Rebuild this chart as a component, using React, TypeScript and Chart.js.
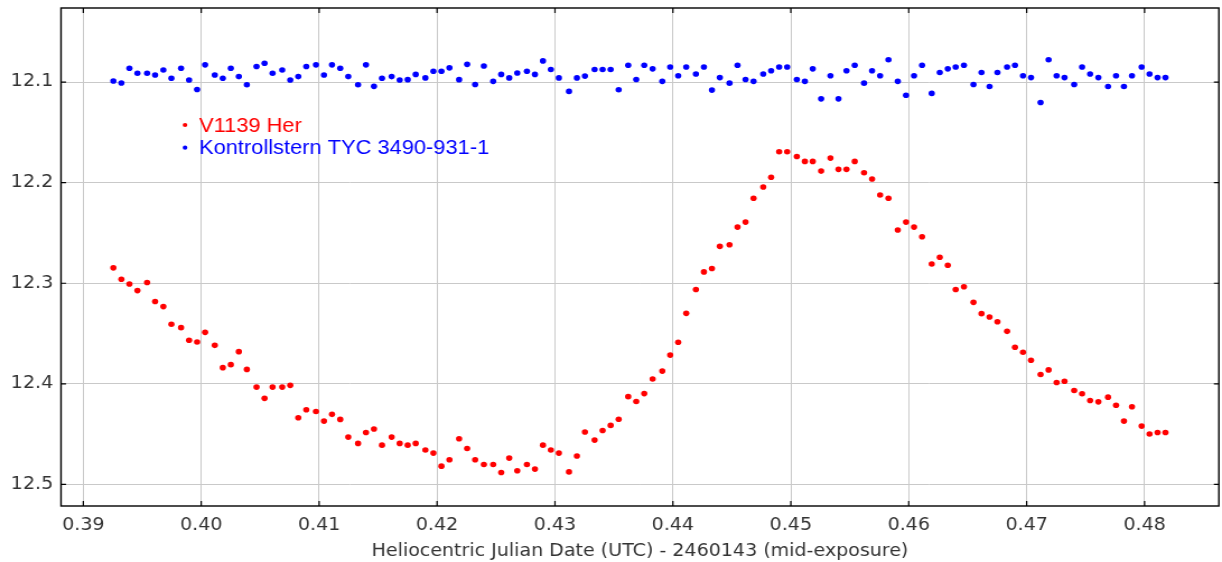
import React, { useEffect, useRef } from "react";
import { Chart, registerables } from "chart.js";

Chart.register(...registerables);

// ---------- data ----------
const seriesNames = ["V1139 Her", "Kontrollstern TYC 3490-931-1"];
const seriesColors = ["#ff0000", "#0000ff"];

const times = [
  0.39255, 0.39323, 0.39391, 0.39459, 0.39541, 0.39609, 0.39679, 0.39747, 0.39829, 0.39897,
  0.39965, 0.40033, 0.40115, 0.40183, 0.40251, 0.40319, 0.40387, 0.40469, 0.40537, 0.40605,
  0.40687, 0.40755, 0.40823, 0.40891, 0.40973, 0.41041, 0.41109, 0.41179, 0.41247, 0.4133,
  0.41397, 0.41465, 0.41533, 0.41615, 0.41683, 0.41751, 0.41819, 0.41901, 0.41969, 0.42037,
  0.42105, 0.42187, 0.42255, 0.42323, 0.42397, 0.42476, 0.42544, 0.42612, 0.4268, 0.42762,
  0.4283, 0.42898, 0.42965, 0.43033, 0.43119, 0.43186, 0.43254, 0.43336, 0.43404, 0.43472,
  0.4354, 0.43621, 0.43689, 0.43757, 0.43828, 0.4391, 0.43977, 0.44045, 0.44113, 0.44195,
  0.44263, 0.44331, 0.44398, 0.4448, 0.44548, 0.44616, 0.44684, 0.44766, 0.44833, 0.44901,
  0.44969, 0.45051, 0.45119, 0.45186, 0.45257, 0.45336, 0.45404, 0.45472, 0.45542, 0.45621,
  0.45689, 0.45757, 0.45828, 0.45907, 0.45977, 0.46045, 0.46113, 0.46195, 0.46263, 0.46331,
  0.46398, 0.46468, 0.46549, 0.46617, 0.46685, 0.46752, 0.46834, 0.46901, 0.46969, 0.47037,
  0.47118, 0.47186, 0.47254, 0.47321, 0.47403, 0.4747, 0.47538, 0.47608, 0.4769, 0.47758,
  0.47825, 0.47893, 0.47975, 0.48042, 0.4811, 0.48177,
];

const targetMag = [
  12.2847, 12.296, 12.3007, 12.3073, 12.2993, 12.3182, 12.3232, 12.3408, 12.3441, 12.3567,
  12.3584, 12.3488, 12.3617, 12.3839, 12.3809, 12.368, 12.3856, 12.4032, 12.4144, 12.4032,
  12.4032, 12.4015, 12.4337, 12.4257, 12.4274, 12.437, 12.4303, 12.4353, 12.4529, 12.4592,
  12.4483, 12.4449, 12.4609, 12.4529, 12.4592, 12.4609, 12.4592, 12.4658, 12.4688, 12.4818,
  12.4755, 12.4546, 12.4642, 12.4755, 12.4801, 12.4801, 12.4881, 12.4738, 12.4864, 12.4801,
  12.4847, 12.4609, 12.4658, 12.4688, 12.4875, 12.4717, 12.4479, 12.4559, 12.4463, 12.4413,
  12.4351, 12.4127, 12.4176, 12.4097, 12.3952, 12.3873, 12.3714, 12.3586, 12.3299, 12.3062,
  12.2887, 12.2854, 12.2633, 12.2617, 12.2442, 12.2392, 12.2155, 12.2043, 12.1947, 12.1693,
  12.1693, 12.174, 12.1789, 12.1789, 12.1885, 12.1756, 12.1868, 12.1868, 12.1789, 12.1901,
  12.1964, 12.2122, 12.2155, 12.2471, 12.2392, 12.2442, 12.2537, 12.2808, 12.2742, 12.2821,
  12.3062, 12.3035, 12.319, 12.3302, 12.3336, 12.3382, 12.3478, 12.3636, 12.3686, 12.3765,
  12.3907, 12.3861, 12.3987, 12.3974, 12.4066, 12.4099, 12.4165, 12.4179, 12.4132, 12.4212,
  12.437, 12.4228, 12.442, 12.4499, 12.4483, 12.4483,
];

const compMag = [
  12.099, 12.101, 12.0863, 12.0913, 12.0913, 12.093, 12.088, 12.0963, 12.0863, 12.098,
  12.1074, 12.0829, 12.093, 12.0963, 12.0863, 12.0946, 12.1027, 12.0846, 12.0813, 12.0913,
  12.088, 12.098, 12.0946, 12.0846, 12.0829, 12.093, 12.0829, 12.0863, 12.0946, 12.1027,
  12.0829, 12.1043, 12.0963, 12.0946, 12.098, 12.0976, 12.0924, 12.0959, 12.0893, 12.0893,
  12.0859, 12.0976, 12.0824, 12.1024, 12.0841, 12.0993, 12.0924, 12.0959, 12.091, 12.0893,
  12.0924, 12.079, 12.0876, 12.0959, 12.1093, 12.0959, 12.0941, 12.0876, 12.0876, 12.0876,
  12.1076, 12.0833, 12.0975, 12.0833, 12.0869, 12.0993, 12.0851, 12.0938, 12.0851, 12.092,
  12.0851, 12.108, 12.0956, 12.1011, 12.0833, 12.0975, 12.0993, 12.092, 12.0887, 12.0851,
  12.0851, 12.0975, 12.0993, 12.0869, 12.1167, 12.0938, 12.1167, 12.0887, 12.0833, 12.1011,
  12.0887, 12.0938, 12.0778, 12.0993, 12.1131, 12.0938, 12.0833, 12.1113, 12.0905, 12.0869,
  12.0851, 12.0833, 12.1025, 12.0905, 12.1044, 12.0905, 12.0851, 12.0833, 12.0938, 12.0956,
  12.1204, 12.0778, 12.0938, 12.0956, 12.1025, 12.0851, 12.092, 12.0956, 12.1044, 12.0938,
  12.1044, 12.0938, 12.0851, 12.092, 12.0956, 12.0956,
];

const xTickValues = [0.39, 0.4, 0.41, 0.42, 0.43, 0.44, 0.45, 0.46, 0.47, 0.48];
const yTickValues = [12.1, 12.2, 12.3, 12.4, 12.5];
const xRange = [0.38811, 0.4863];
const yRange = [12.0264, 12.5214];
const xAxisTitle = "Heliocentric Julian Date (UTC) - 2460143 (mid-exposure)";

// ---------- layout (reference is horizontally stretched) ----------
const CSS_W = 1222;
const CSS_H = 562;
const STRETCH = 1.12;
const W = Math.round(CSS_W / STRETCH);
const PLOT_LEFT = 61 / STRETCH;
const PLOT_RIGHT = 1219.3 / STRETCH;
const PLOT_TOP = 8;
const PLOT_BOTTOM = 506;

const framePlugin = {
  id: "frameTicks",
  afterDraw(chart: any) {
    const { ctx, chartArea } = chart;
    const { left, right, top, bottom } = chartArea;
    const xs = chart.scales.x;
    const ys = chart.scales.y;
    ctx.save();
    ctx.strokeStyle = "#000";
    ctx.lineWidth = 1.4;
    ctx.strokeRect(left, top, right - left, bottom - top);
    ctx.lineWidth = 1.2;
    ctx.beginPath();
    const tkV = 5;
    const tkH = 5 / STRETCH;
    xTickValues.forEach((v) => {
      const px = xs.getPixelForValue(v);
      ctx.moveTo(px, bottom);
      ctx.lineTo(px, bottom - tkV);
      ctx.moveTo(px, top);
      ctx.lineTo(px, top + tkV);
    });
    yTickValues.forEach((v) => {
      const py = ys.getPixelForValue(v);
      ctx.moveTo(left, py);
      ctx.lineTo(left + tkH, py);
      ctx.moveTo(right, py);
      ctx.lineTo(right - tkH, py);
    });
    ctx.stroke();
    ctx.restore();
  },
};

const legendPlugin = {
  id: "innerLegend",
  afterDatasetsDraw(chart: any) {
    const { ctx } = chart;
    ctx.save();
    const markerX = 185 / STRETCH;
    const textX = 199 / STRETCH;
    const rows = [
      { markerY: 125, baseY: 131.5 },
      { markerY: 147.7, baseY: 154 },
    ];
    ctx.font = "19.5px 'Liberation Sans', Arial, sans-serif";
    ctx.textAlign = "left";
    ctx.textBaseline = "alphabetic";
    seriesNames.forEach((name, i) => {
      ctx.fillStyle = seriesColors[i];
      ctx.beginPath();
      ctx.arc(markerX, rows[i].markerY, 2.1, 0, Math.PI * 2);
      ctx.fill();
      ctx.fillText(name, textX, rows[i].baseY);
    });
    ctx.restore();
  },
};

export default function App() {
  const canvasRef = useRef<HTMLCanvasElement | null>(null);

  useEffect(() => {
    const canvas = canvasRef.current;
    if (!canvas) return;
    const datasets = [targetMag, compMag].map((mags, i) => ({
      label: seriesNames[i],
      data: times.map((t, j) => ({ x: t, y: mags[j] })),
      backgroundColor: seriesColors[i],
      borderColor: seriesColors[i],
      borderWidth: 0,
      pointRadius: 2.8,
      pointHoverRadius: 2.8,
      showLine: false,
    }));
    const tickFont = { family: "'DejaVu Sans', sans-serif", size: 17 };
    const chart = new Chart(canvas, {
      type: "scatter",
      data: { datasets },
      plugins: [framePlugin, legendPlugin],
      options: {
        responsive: false,
        devicePixelRatio: 1,
        animation: false,
        layout: {
          padding: { left: 0, right: W - PLOT_RIGHT, top: PLOT_TOP, bottom: 0 },
        },
        plugins: {
          legend: { display: false },
          tooltip: { enabled: false },
          title: { display: false },
        },
        scales: {
          x: {
            type: "linear",
            position: "bottom",
            min: xRange[0],
            max: xRange[1],
            afterFit: (s: any) => {
              s.height = CSS_H - PLOT_BOTTOM;
              s.paddingLeft = 0;
              s.paddingRight = 0;
              s.paddingTop = 0;
              s.paddingBottom = 0;
            },
            afterBuildTicks: (s: any) => {
              s.ticks = xTickValues.map((v) => ({ value: v }));
            },
            grid: { color: "#c9c9c9", lineWidth: 1, drawTicks: false },
            border: { display: false },
            ticks: {
              font: tickFont,
              color: "#333333",
              padding: 9,
              maxRotation: 0,
              autoSkip: false,
              callback: (v: any) => Number(v).toFixed(2),
            },
            title: {
              display: true,
              text: xAxisTitle,
              font: tickFont,
              color: "#333333",
              padding: { top: 0, bottom: 0 },
            },
          },
          y: {
            type: "linear",
            reverse: true,
            min: yRange[0],
            max: yRange[1],
            afterFit: (s: any) => {
              s.width = PLOT_LEFT;
              s.paddingLeft = 0;
              s.paddingRight = 0;
              s.paddingTop = 0;
              s.paddingBottom = 0;
            },
            afterBuildTicks: (s: any) => {
              s.ticks = yTickValues.map((v) => ({ value: v }));
            },
            grid: { color: "#c9c9c9", lineWidth: 1, drawTicks: false },
            border: { display: false },
            ticks: {
              font: tickFont,
              color: "#333333",
              padding: 7,
              autoSkip: false,
              callback: (v: any) => Number(v).toFixed(1),
            },
          },
        },
      },
    });
    return () => chart.destroy();
  }, []);

  return (
    <div
      style={{
        position: "absolute",
        left: 0,
        top: 0,
        width: CSS_W + "px",
        height: CSS_H + "px",
        background: "#fff",
        overflow: "hidden",
      }}
    >
      <canvas
        ref={canvasRef}
        width={W}
        height={CSS_H}
        style={{ display: "block", width: CSS_W + "px", height: CSS_H + "px" }}
      />
    </div>
  );
}
